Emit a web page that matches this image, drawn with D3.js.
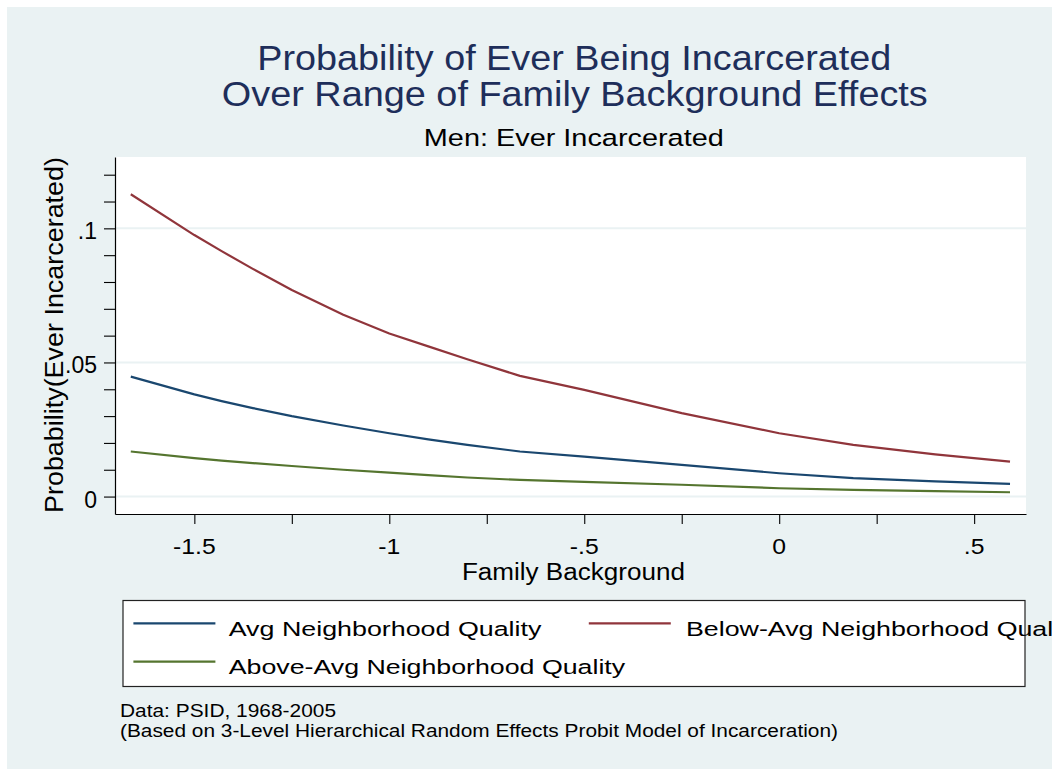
<!DOCTYPE html>
<html>
<head>
<meta charset="utf-8">
<script src="https://cdn.jsdelivr.net/npm/d3@7/dist/d3.min.js"></script>
<style>
  html, body { margin: 0; padding: 0; background: #ffffff; }
  svg { display: block; }
  text { font-family: "Liberation Sans", Arial, Helvetica, sans-serif; }
</style>
</head>
<body>
<svg id="chart" width="1052" height="769"></svg>
<script>
// ---- data ----
const familyBackground = [-1.663, -1.5, -1.43, -1.35, -1.25, -1.118, -1.0, -0.9, -0.8, -0.665, -0.5, -0.25, 0, 0.19, 0.4, 0.592];
const avgNeighborhood      = [0.0447, 0.0381, 0.0356, 0.0330, 0.0300, 0.0265, 0.0236, 0.0213, 0.0193, 0.0168, 0.0149, 0.0118, 0.0087, 0.0069, 0.0057, 0.0047];
const belowAvgNeighborhood = [0.1127, 0.0975, 0.0915, 0.0849, 0.0770, 0.0678, 0.0608, 0.0560, 0.0512, 0.0450, 0.0398, 0.0311, 0.0236, 0.0193, 0.0157, 0.0130];
const aboveAvgNeighborhood = [0.0168, 0.0143, 0.0134, 0.0125, 0.0114, 0.0100, 0.0089, 0.0080, 0.0071, 0.0062, 0.0055, 0.0044, 0.0031, 0.0025, 0.0020, 0.0016];
const seriesNames = ["Avg Neighborhood Quality", "Below-Avg Neighborhood Quality", "Above-Avg Neighborhood Quality"];
const xMajorTicks = [-1.5, -1, -0.5, 0, 0.5];
const xTickLabels = ["-1.5", "-1", "-.5", "0", ".5"];
const xMinorTicks = [-1.25, -0.75, -0.25, 0.25];
const yMajorTicks = [0, 0.05, 0.1];
const yTickLabels = ["0", ".05", ".1"];
const yAllTicks = [0, 0.01, 0.02, 0.03, 0.04, 0.05, 0.06, 0.07, 0.08, 0.09, 0.1, 0.11, 0.12];

// ---- layout / style ----
const W = 1052, H = 769;
const plot = { left: 115, right: 1026, top: 157, bottom: 514 };
const colors = ["#1a476f", "#90353b", "#55752f"];
const bg = "#eaf2f3";
const titleColor = "#1e2e5a";

const svg = d3.select("#chart");

svg.append("rect").attr("x", 0).attr("y", 0).attr("width", W).attr("height", H).attr("fill", "#ffffff");
svg.append("rect").attr("x", 7).attr("y", 7).attr("width", W - 7).attr("height", H - 7).attr("fill", bg);
svg.append("rect").attr("x", plot.left).attr("y", plot.top)
  .attr("width", plot.right - plot.left).attr("height", plot.bottom - plot.top).attr("fill", "#ffffff");

const x = d3.scaleLinear().domain([-1.7035, 0.633]).range([plot.left, plot.right]);
const y = d3.scaleLinear().domain([-0.0065, 0.1266]).range([plot.bottom, plot.top]);

function fit(sel, width) {
  sel.attr("textLength", width).attr("lengthAdjust", "spacingAndGlyphs");
  return sel;
}
function stretch(sel, factor) {
  sel.each(function () {
    const w = this.getComputedTextLength();
    d3.select(this).attr("textLength", w * factor).attr("lengthAdjust", "spacingAndGlyphs");
  });
  return sel;
}

// gridlines
svg.append("g").selectAll("line").data(yMajorTicks).join("line")
  .attr("x1", plot.left).attr("x2", plot.right)
  .attr("y1", d => y(d)).attr("y2", d => y(d))
  .attr("stroke", bg).attr("stroke-width", 2);

// series lines
const seriesValues = [avgNeighborhood, belowAvgNeighborhood, aboveAvgNeighborhood];
const line = d3.line().x(d => x(d[0])).y(d => y(d[1]));
seriesValues.forEach((vals, i) => {
  const pts = familyBackground.map((fb, j) => [fb, vals[j]]);
  svg.append("path").datum(pts)
    .attr("d", line).attr("fill", "none")
    .attr("stroke", colors[i]).attr("stroke-width", 2.2)
    .attr("stroke-linejoin", "round");
});

// x axis
const xAxis = d3.axisBottom(x)
  .tickValues(xMajorTicks.concat(xMinorTicks))
  .tickSize(10).tickSizeOuter(0).tickPadding(0)
  .tickFormat(() => "");
const gx = svg.append("g").attr("transform", `translate(0,${plot.bottom})`).call(xAxis);
gx.select(".domain").attr("stroke", "#000").attr("stroke-width", 1.2);
gx.selectAll(".tick line").attr("stroke", "#000").attr("stroke-width", 1.1);

const xl = svg.append("g").selectAll("text").data(xMajorTicks).join("text")
  .attr("x", d => x(d)).attr("y", 554)
  .attr("text-anchor", "middle").attr("font-size", 21.5).attr("fill", "#000")
  .text((d, i) => xTickLabels[i]);
stretch(xl, 1.15);

// y axis
const yAxis = d3.axisLeft(y)
  .tickValues(yAllTicks)
  .tickSize(11).tickSizeOuter(0).tickPadding(0)
  .tickFormat(() => "");
const gy = svg.append("g").attr("transform", `translate(${plot.left},0)`).call(yAxis);
gy.select(".domain").attr("stroke", "#000").attr("stroke-width", 1.2);
gy.selectAll(".tick line").attr("stroke", "#000").attr("stroke-width", 1.1);

svg.append("g").selectAll("text").data(yMajorTicks).join("text")
  .attr("x", 97).attr("y", d => y(d) + 11)
  .attr("text-anchor", "end").attr("font-size", 23).attr("fill", "#000")
  .text((d, i) => yTickLabels[i]);

// axis titles
fit(svg.append("text").attr("x", 573.4).attr("y", 580)
  .attr("text-anchor", "middle").attr("font-size", 23.5).attr("fill", "#000")
  .text("Family Background"), 223);

fit(svg.append("text").attr("transform", "translate(63,335) rotate(-90)")
  .attr("text-anchor", "middle").attr("font-size", 25).attr("fill", "#000")
  .text("Probability(Ever Incarcerated)"), 356);

// titles
fit(svg.append("text").attr("x", 574.3).attr("y", 70)
  .attr("text-anchor", "middle").attr("font-size", 34.5).attr("fill", titleColor)
  .text("Probability of Ever Being Incarcerated"), 634);
fit(svg.append("text").attr("x", 574.8).attr("y", 106)
  .attr("text-anchor", "middle").attr("font-size", 34.5).attr("fill", titleColor)
  .text("Over Range of Family Background Effects"), 706);
fit(svg.append("text").attr("x", 573.8).attr("y", 146)
  .attr("text-anchor", "middle").attr("font-size", 24.5).attr("fill", "#000")
  .text("Men: Ever Incarcerated"), 300);

// legend
svg.append("rect").attr("x", 123).attr("y", 600.5).attr("width", 902).attr("height", 86)
  .attr("fill", "#ffffff").attr("stroke", "#222").attr("stroke-width", 1.2);
const legendItems = [
  { i: 0, lx: 133.4, ly: 623.3, tx: 228.7, ty: 636, w: 312.7 },
  { i: 1, lx: 588.8, ly: 623.3, tx: 686, ty: 636, w: 394 },
  { i: 2, lx: 133.4, ly: 661.7, tx: 228.7, ty: 673.5, w: 396.5 }
];
legendItems.forEach(it => {
  svg.append("line").attr("x1", it.lx).attr("x2", it.lx + 82)
    .attr("y1", it.ly).attr("y2", it.ly)
    .attr("stroke", colors[it.i]).attr("stroke-width", 2.2);
  fit(svg.append("text").attr("x", it.tx).attr("y", it.ty)
    .attr("font-size", 20.5).attr("fill", "#000")
    .text(seriesNames[it.i]), it.w);
});

// notes
fit(svg.append("text").attr("x", 120).attr("y", 717)
  .attr("font-size", 17.5).attr("fill", "#000")
  .text("Data: PSID, 1968-2005"), 216);
fit(svg.append("text").attr("x", 120).attr("y", 736.5)
  .attr("font-size", 17.5).attr("fill", "#000")
  .text("(Based on 3-Level Hierarchical Random Effects Probit Model of Incarceration)"), 718);
</script>
</body>
</html>
